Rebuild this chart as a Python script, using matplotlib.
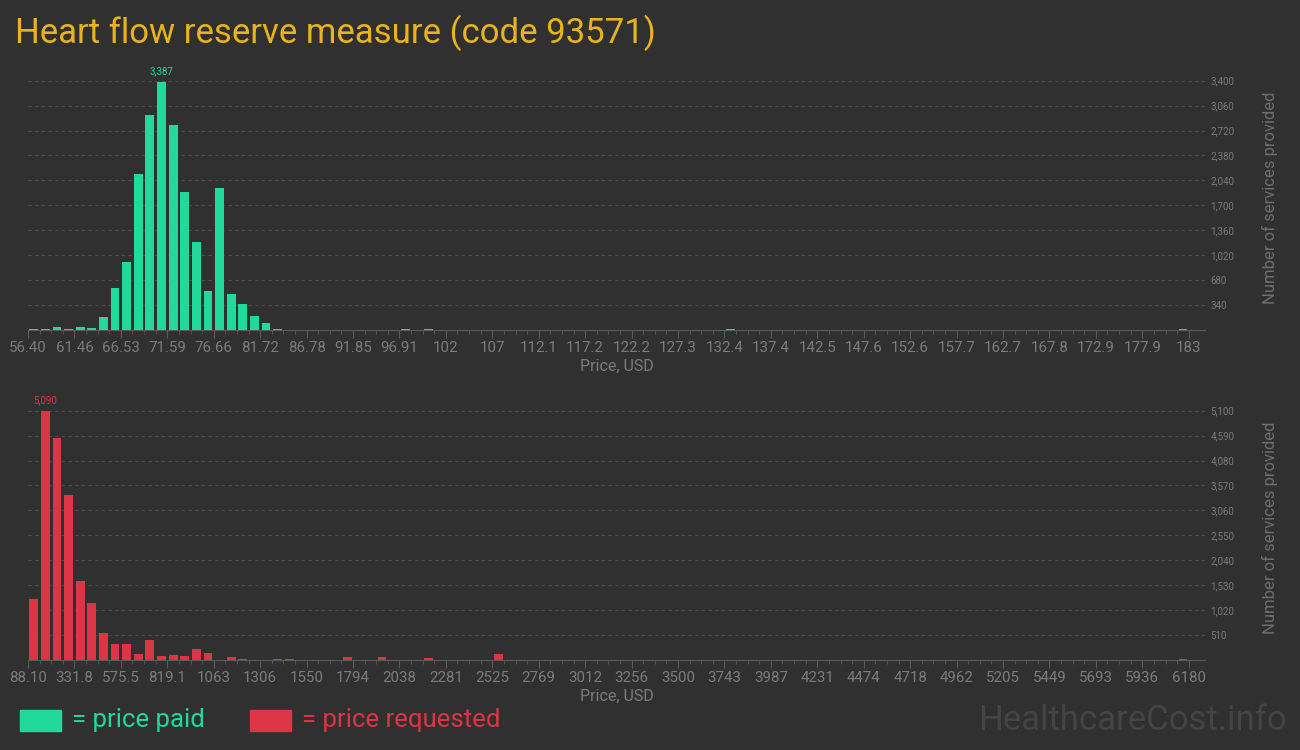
import numpy as np
import matplotlib
matplotlib.use('Agg')
import matplotlib.pyplot as plt
from matplotlib.patches import Rectangle

# ================================================
# Data
# ================================================
paid_range = (56.40, 183.0)
paid_bins = [0, 1, 2, 3, 4, 5, 6, 7, 8, 9, 10, 11, 12, 13, 14, 15, 16, 17, 18, 19, 20, 21, 32, 34, 60, 99]
paid_counts = [18, 18, 45, 18, 45, 32, 182, 577, 932, 2132, 2936, 3387, 2800, 1882, 1204, 536,
               1941, 495, 359, 195, 100, 18, 14, 14, 14, 16]
paid_ticklabels = ['56.40', '61.46', '66.53', '71.59', '76.66', '81.72', '86.78', '91.85', '96.91',
                   '102', '107', '112.1', '117.2', '122.2', '127.3', '132.4', '137.4', '142.5',
                   '147.6', '152.6', '157.7', '162.7', '167.8', '172.9', '177.9', '183']

req_range = (88.10, 6180.0)
req_bins = [0, 1, 2, 3, 4, 5, 6, 7, 8, 9, 10, 11, 12, 13, 14, 15, 17, 18, 21, 22, 27, 30, 34, 40, 99]
req_counts = [1248, 5090, 4542, 3376, 1616, 1166, 552, 327, 327, 123, 409, 82, 102, 82, 225, 143,
              61, 20, 20, 20, 61, 61, 41, 123, 30]
req_ticklabels = ['88.10', '331.8', '575.5', '819.1', '1063', '1306', '1550', '1794', '2038',
                  '2281', '2525', '2769', '3012', '3256', '3500', '3743', '3987', '4231', '4474',
                  '4718', '4962', '5205', '5449', '5693', '5936', '6180']

n_bins = 100

# ================================================
# Style
# ================================================
BG = '#303030'
GREEN = '#20d99a'
RED = '#dc3545'
GOLD = '#e8b31c'
GRAY = '#7c7c7c'
ROBOTO = ['Roboto', 'DejaVu Sans']

fig = plt.figure(figsize=(13, 7.5), dpi=100, facecolor=BG)


def draw_hist(rect, rng, bins, counts, ticklabels, step, ymax, color):
    ax = fig.add_axes(rect, facecolor=BG)
    lo, hi = rng
    binw = (hi - lo) / n_bins
    full = np.zeros(n_bins)
    full[bins] = counts
    centers = lo + (np.arange(n_bins) + 0.5) * binw
    ax.bar(centers, full, width=binw * 0.76, color=color, zorder=3)

    # label on tallest bar
    top = int(np.argmax(full))
    ax.text(centers[top], full[top] + ymax * 0.022, f'{int(full[top]):,}', color=color,
            ha='center', va='bottom', fontsize=7, family=ROBOTO)

    ax.set_xlim(lo, lo + binw * 101.4)
    ax.set_ylim(0, ymax)
    major = lo + np.arange(0, n_bins + 1, 4) * binw
    ax.set_xticks(major)
    ax.set_xticklabels(ticklabels)
    ax.set_xticks(lo + np.arange(n_bins + 1) * binw, minor=True)
    ax.tick_params(axis='x', which='major', length=6, color='#5a5a5a', labelcolor=GRAY,
                   labelsize=10.8, pad=2)
    ax.tick_params(axis='x', which='minor', length=3, color='#5a5a5a')
    for lab in ax.get_xticklabels():
        lab.set_family(ROBOTO)

    yt = np.arange(step, step * 10 + 1, step)
    ax.set_yticks(yt)
    ax.set_yticklabels([f'{v:,}' for v in yt])
    ax.yaxis.tick_right()
    ax.tick_params(axis='y', length=0, labelcolor=GRAY, labelsize=7, pad=4)
    for lab in ax.get_yticklabels():
        lab.set_family(ROBOTO)
    ax.grid(axis='y', color='#4c4c4c', linestyle=(0, (3, 3)), linewidth=0.8, zorder=0)

    for s in ['top', 'left', 'right']:
        ax.spines[s].set_visible(False)
    ax.spines['bottom'].set_color('#5a5a5a')

    ax.set_xlabel('Price, USD', color=GRAY, fontsize=11.5, family=ROBOTO, labelpad=3)
    ax.yaxis.set_label_position('right')
    ax.set_ylabel('Number of services provided', color='#6e6e6e', fontsize=12,
                  family=ROBOTO, labelpad=20)
    return ax


# axes rectangles in figure fractions (1300x750 px)
x0, x1 = 28 / 1300, 1205 / 1300
draw_hist([x0, 1 - 330 / 750, x1 - x0, 265 / 750], paid_range, paid_bins, paid_counts,
          paid_ticklabels, 340, 3400 * 265 / 249.3, GREEN)
draw_hist([x0, 1 - 660 / 750, x1 - x0, 265 / 750], req_range, req_bins, req_counts,
          req_ticklabels, 510, 5100 * 265 / 249.3, RED)

# ================================================
# Title, legend, watermark
# ================================================
fig.text(15 / 1300, 1 - 33 / 750, 'Heart flow reserve measure (code 93571)', color=GOLD,
         fontsize=25, family=ROBOTO, va='center', ha='left')

fig.patches.append(Rectangle((20 / 1300, 1 - 731 / 750), 41 / 1300, 21 / 750,
                             transform=fig.transFigure, color=GREEN))
fig.text(72 / 1300, 1 - 720 / 750, '= price paid', color=GREEN, fontsize=18.5,
         family=ROBOTO, va='center', ha='left')
fig.patches.append(Rectangle((250 / 1300, 1 - 731 / 750), 41 / 1300, 21 / 750,
                             transform=fig.transFigure, color=RED))
fig.text(302 / 1300, 1 - 720 / 750, '= price requested', color=RED, fontsize=18.5,
         family=ROBOTO, va='center', ha='left')

fig.text(1287 / 1300, 1 - 720 / 750, 'HealthcareCost.info', color='#444444', fontsize=25,
         family=ROBOTO, va='center', ha='right')

fig.savefig('out.png', dpi=100, facecolor=BG)
